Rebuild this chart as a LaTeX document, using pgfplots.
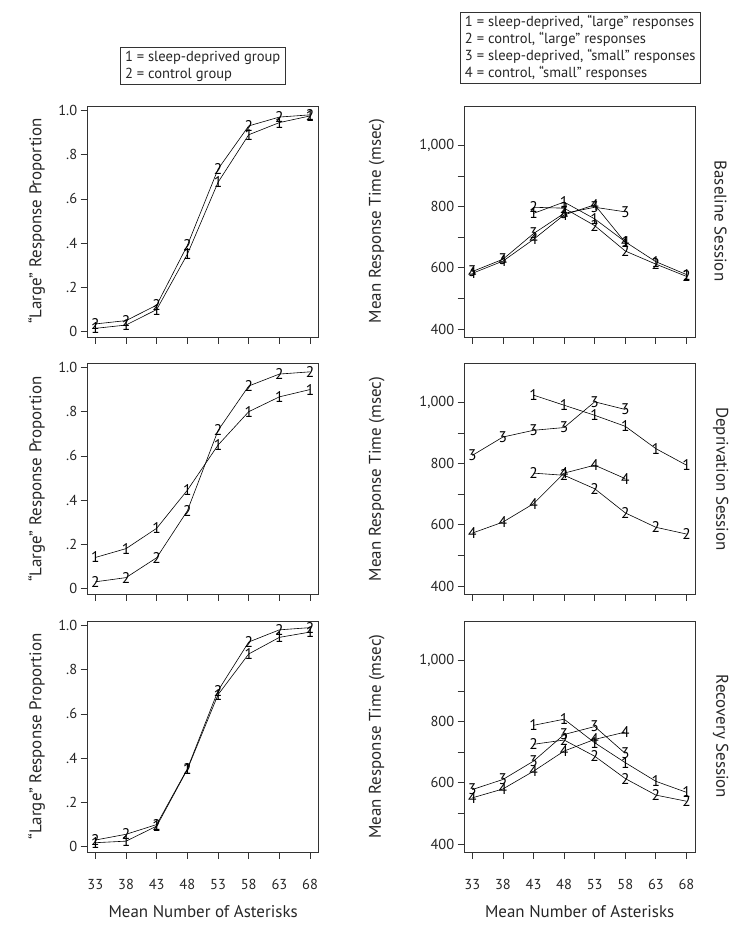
\documentclass[border=0pt]{standalone}
\usepackage{pgfplots}
\pgfplotsset{compat=1.18}
\usepackage{fontspec}
\setmainfont{PT Sans}
\begin{document}
\pgfplotsset{
  panel/.style={scale only axis, width=231bp, height=231bp,
    xmin=31.75, xmax=69.4, xtick={33,38,...,68},
    /pgf/number format/assume math mode=true,
    tick align=outside, tick pos=left, major tick length=7bp,
    axis line style={draw=black!80, line width=0.8pt},
    every tick/.style={black!80, line width=0.8pt},
    tick label style={font=\fontsize{14.5}{16}\selectfont, text=black!85},
    xticklabel style={yshift=-17bp},
    clip=false, anchor=south west},
  leftp/.style={panel, ymin=-0.024, ymax=1.02, ytick={0,0.2,0.4,0.6,0.8,1},
    yticklabels={0,.2,.4,.6,.8,1.0}},
  rightp/.style={panel, xmax=69.5, ymin=374, ymax=1129, ytick={400,500,...,1000},
    yticklabels={400,,600,,800,,{1,000}}},
  nolab/.style={xticklabels={}},
  ser/.style={black, line width=0.6pt, mark=text, text mark={#1},
    text mark as node=true,
    text mark style={font=\fontsize{15.5}{15.5}\selectfont, inner sep=0pt}},
}
\begin{tikzpicture}
\useasboundingbox (0bp,0bp) rectangle (737bp,927bp);
% ---------------- Baseline
\begin{axis}[leftp, nolab, at={(85bp,590bp)}]
\addplot[ser=1] coordinates {(33,0.015)(38,0.03)(43,0.10)(48,0.35)(53,0.675)(58,0.89)(63,0.945)(68,0.975)};
\addplot[ser=2] coordinates {(33,0.035)(38,0.05)(43,0.12)(48,0.39)(53,0.735)(58,0.93)(63,0.97)(68,0.98)};
\end{axis}
\begin{axis}[rightp, nolab, at={(462bp,590bp)}]
\addplot[ser=1] coordinates {(43,778)(48,815)(53,760)(58,685)(63,620)(68,578)};
\addplot[ser=2] coordinates {(43,798)(48,795)(53,738)(58,655)(63,612)(68,572)};
\addplot[ser=3] coordinates {(33,588)(38,628)(43,712)(48,778)(53,798)(58,783)};
\addplot[ser=4] coordinates {(33,582)(38,622)(43,693)(48,773)(53,806)(58,683)};
\end{axis}
% ---------------- Deprivation
\begin{axis}[leftp, nolab, at={(85bp,333bp)}]
\addplot[ser=1] coordinates {(33,0.141)(38,0.181)(43,0.273)(48,0.445)(53,0.649)(58,0.80)(63,0.867)(68,0.90)};
\addplot[ser=2] coordinates {(33,0.031)(38,0.05)(43,0.14)(48,0.352)(53,0.715)(58,0.916)(63,0.97)(68,0.98)};
\end{axis}
\begin{axis}[rightp, nolab, at={(462bp,333bp)}]
\addplot[ser=1] coordinates {(43,1024)(48,991)(53,958)(58,922)(63,849)(68,795)};
\addplot[ser=2] coordinates {(43,769)(48,762)(53,718)(58,639)(63,592)(68,570)};
\addplot[ser=3] coordinates {(33,827)(38,887)(43,909)(48,918)(53,1002)(58,977)};
\addplot[ser=4] coordinates {(33,573)(38,609)(43,669)(48,769)(53,795)(58,751)};
\end{axis}
% ---------------- Recovery
\begin{axis}[leftp, at={(85bp,75bp)}]
\addplot[ser=1] coordinates {(33,0.018)(38,0.025)(43,0.093)(48,0.349)(53,0.687)(58,0.871)(63,0.946)(68,0.97)};
\addplot[ser=2] coordinates {(33,0.03)(38,0.056)(43,0.10)(48,0.352)(53,0.705)(58,0.925)(63,0.98)(68,0.99)};
\end{axis}
\begin{axis}[rightp, at={(462bp,75bp)}]
\addplot[ser=1] coordinates {(43,788)(48,808)(53,731)(58,666)(63,605)(68,569)};
\addplot[ser=2] coordinates {(43,726)(48,740)(53,687)(58,614)(63,560)(68,540)};
\addplot[ser=3] coordinates {(33,578)(38,611)(43,671)(48,758)(53,784)(58,696)};
\addplot[ser=4] coordinates {(33,551)(38,580)(43,638)(48,704)(53,742)(58,766)};
\end{axis}
% ---------------- labels
\tikzset{lab/.style={font=\fontsize{17}{19}\selectfont, text=black!85}}
\foreach \yc in {706,448,190.5}{
  \node[lab, rotate=90] at (34bp,\yc bp) {``Large'' Response Proportion};
  \node[lab, rotate=90] at (374bp,\yc bp) {Mean Response Time (msec)};
}
\node[lab, rotate=-90] at (718bp,706bp) {Baseline Session};
\node[lab, rotate=-90] at (718bp,448bp) {Deprivation Session};
\node[lab, rotate=-90] at (718bp,190.5bp) {Recovery Session};
\node[lab] at (200.5bp,15bp) {Mean Number of Asterisks};
\node[lab] at (577bp,15bp) {Mean Number of Asterisks};
\node[draw=black!80, line width=0.7pt, align=left, font=\fontsize{14.6}{17}\selectfont, text=black!85,
  inner xsep=5pt, inner ysep=3pt] at (200bp,861bp)
  {1 = sleep-deprived group\\2 = control group};
\node[draw=black!80, line width=0.7pt, align=left, font=\fontsize{14.6}{17}\selectfont, text=black!85,
  inner xsep=5pt, inner ysep=3pt, anchor=west] at (457bp,879bp)
  {1 = sleep-deprived, ``large'' responses\\2 = control, ``large'' responses\\3 = sleep-deprived, ``small'' responses\\4 = control, ``small'' responses};
\end{tikzpicture}
\end{document}
